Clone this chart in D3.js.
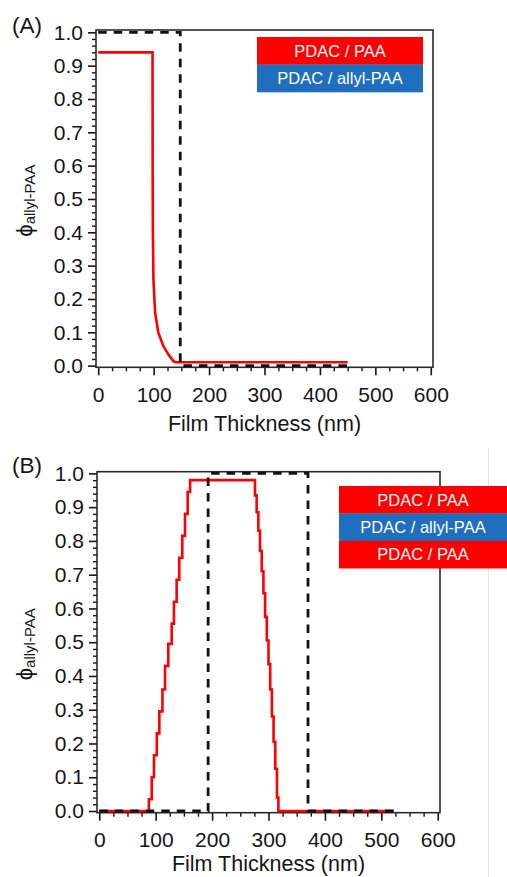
<!DOCTYPE html>
<html><head><meta charset="utf-8">
<script src="https://cdn.jsdelivr.net/npm/d3@7"></script>
<style>
body{margin:0;background:#fff}
svg{display:block}
text{font-family:"Liberation Sans",Arial,Helvetica,sans-serif}
</style>
</head><body>
<svg id="c" width="507" height="877"></svg>
<script>
// ---------------- data ----------------
const xMajorTicks = [0, 100, 200, 300, 400, 500, 600];
const yMajorTicks = [0, 0.1, 0.2, 0.3, 0.4, 0.5, 0.6, 0.7, 0.8, 0.9, 1.0];
const xTitle = "Film Thickness (nm)";
const yTitleMain = "\u03D5";
const yTitleSub = "allyl-PAA";

// Panel A: PDAC/PAA on top of PDAC/allyl-PAA
const aRedX = [0, 98, 98.2, 98.6, 99.6, 102.7, 108.6, 117.7, 126.7, 135.7, 141.8, 450];
const aRedY = [0.94, 0.94, 0.60, 0.41, 0.258, 0.158, 0.098, 0.058, 0.033, 0.013, 0.01, 0.01];
const aIdealX = [0, 148, 148, 450];
const aIdealY = [1, 1, 0, 0];
const aLegendLabels = ["PDAC / PAA", "PDAC / allyl-PAA"];
const aLegendKinds = ["PAA", "allyl"];

// Panel B: PDAC/PAA / PDAC/allyl-PAA / PDAC/PAA (step profile)
const bRedX = [0, 88, 93, 97, 102, 106.5, 112, 116.6, 122.4, 128.4, 132.4, 137.2, 141.8, 147.2, 152, 156.7, 161,
               276, 279, 282, 285, 288, 291, 294, 297, 300, 303, 306, 309, 312, 315, 317.5, 522];
const bRedY = [0, 0.035, 0.10, 0.165, 0.23, 0.295, 0.36, 0.43, 0.495, 0.555, 0.62, 0.685, 0.75, 0.815, 0.88, 0.945, 0.98,
               0.935, 0.885, 0.83, 0.77, 0.71, 0.645, 0.575, 0.505, 0.435, 0.36, 0.28, 0.205, 0.125, 0.04, 0, 0];
const bIdealX = [0, 193, 193, 370, 370, 522];
const bIdealY = [0, 0, 1, 1, 0, 0];
const bLegendLabels = ["PDAC / PAA", "PDAC / allyl-PAA", "PDAC / PAA"];
const bLegendKinds = ["PAA", "allyl", "PAA"];

// ---------------- style ----------------
const RED = "#ff0000";
const BLUE = "#1f6fbe";
const kindColor = {PAA: RED, allyl: BLUE};
const INK = "#151515";

const svg = d3.select("#c");
svg.append("rect").attr("width", 507).attr("height", 877).attr("fill", "#fff");

// faint screenshot separator line on the right
svg.append("line").attr("x1", 488.5).attr("x2", 488.5).attr("y1", 448).attr("y2", 877)
  .attr("stroke", "#e4e4e4").attr("stroke-width", 1);

function range(a, b, s) { const r = []; for (let v = a; v <= b + 1e-9; v += s) r.push(+v.toFixed(4)); return r; }

function drawPanel(p) {
  const x = d3.scaleLinear().domain([-4, 604]).range([p.left, p.right]);
  const y = d3.scaleLinear().domain(p.yDomain).range([p.bottom, p.top]);
  const g = svg.append("g");

  // minor ticks
  const xMinor = range(0, 600, 25).filter(v => v % 100 !== 0);
  const yMinor = range(0, 1, 0.02).filter(v => Math.abs(v * 10 - Math.round(v * 10)) > 1e-6);
  g.append("g").attr("transform", `translate(0,${p.bottom})`)
    .call(d3.axisBottom(x).tickValues(xMinor).tickSize(4).tickFormat("").tickSizeOuter(0))
    .call(s => s.select(".domain").remove())
    .call(s => s.selectAll("line").attr("stroke", INK).attr("stroke-width", 1.4));
  g.append("g").attr("transform", `translate(${p.left},0)`)
    .call(d3.axisLeft(y).tickValues(yMinor).tickSize(4).tickFormat("").tickSizeOuter(0))
    .call(s => s.select(".domain").remove())
    .call(s => s.selectAll("line").attr("stroke", INK).attr("stroke-width", 1.4));

  // major ticks + labels
  const xa = g.append("g").attr("transform", `translate(0,${p.bottom})`)
    .call(d3.axisBottom(x).tickValues(xMajorTicks).tickSize(8).tickPadding(p.xPad).tickSizeOuter(0).tickFormat(d3.format("d")));
  xa.select(".domain").remove();
  xa.selectAll("line").attr("stroke", INK).attr("stroke-width", 1.6);
  xa.selectAll("text").attr("fill", INK).attr("font-size", 21).attr("font-family", "Liberation Sans, Arial, sans-serif");

  const ya = g.append("g").attr("transform", `translate(${p.left},0)`)
    .call(d3.axisLeft(y).tickValues(yMajorTicks).tickSize(8).tickPadding(5).tickSizeOuter(0).tickFormat(d3.format(".1f")));
  ya.select(".domain").remove();
  ya.selectAll("line").attr("stroke", INK).attr("stroke-width", 1.6);
  ya.selectAll("text").attr("fill", INK).attr("font-size", 21).attr("font-family", "Liberation Sans, Arial, sans-serif");

  // frame
  g.append("rect").attr("x", p.left).attr("y", p.top)
    .attr("width", p.right - p.left).attr("height", p.bottom - p.top)
    .attr("fill", "none").attr("stroke", "#2a2a2a").attr("stroke-width", 1.6);

  // red profile
  const redPts = p.redX.map((v, i) => [v, p.redY[i]]);
  g.append("path").datum(redPts)
    .attr("d", d3.line().x(d => x(d[0])).y(d => y(d[1])).curve(p.step ? d3.curveStepAfter : d3.curveLinear))
    .attr("fill", "none").attr("stroke", RED).attr("stroke-width", 2.6).attr("stroke-linejoin", "miter");

  // ideal dashed profile
  const idPts = p.idealX.map((v, i) => [v, p.idealY[i]]);
  g.append("path").datum(idPts)
    .attr("d", d3.line().x(d => x(d[0])).y(d => y(d[1])))
    .attr("fill", "none").attr("stroke", "#111").attr("stroke-width", 2.8)
    .attr("stroke-dasharray", "8.5,7");

  // axis title
  g.append("text").attr("x", (p.left + p.right) / 2).attr("y", p.bottom + p.titleDy)
    .attr("text-anchor", "middle").attr("font-size", 21.5).attr("fill", INK).text(xTitle);

  // y title (rotated)
  const yt = g.append("text")
    .attr("transform", `translate(32,${(p.top + p.bottom) / 2 + 2}) rotate(-90)`)
    .attr("text-anchor", "middle").attr("fill", INK);
  yt.append("tspan").attr("font-size", 22).text(yTitleMain);
  yt.append("tspan").attr("font-size", 15).attr("dy", 3).text(yTitleSub);

  // panel label
  g.append("text").attr("x", 12).attr("y", p.top + p.labelDy)
    .attr("font-size", 22.5).attr("fill", INK).text(p.label);

  // legend
  const lg = g.append("g");
  p.legendLabels.forEach((t, i) => {
    lg.append("rect").attr("x", p.legX).attr("y", p.legY + i * p.legH)
      .attr("width", p.legW).attr("height", p.legH + 0.3)
      .attr("fill", kindColor[p.legendKinds[i]]);
    lg.append("text").attr("x", p.legTextX).attr("y", p.legY + i * p.legH + p.legH / 2)
      .attr("dy", "0.36em").attr("text-anchor", "middle")
      .attr("font-size", 16.5).attr("fill", "#fff").text(t);
  });
}

drawPanel({
  label: "(A)", labelDy: 3, xPad: 12, titleDy: 64,
  left: 96, right: 433, top: 30, bottom: 367.3, yDomain: [-0.005, 1.007],
  redX: aRedX, redY: aRedY, step: false,
  idealX: aIdealX, idealY: aIdealY,
  legendLabels: aLegendLabels, legendKinds: aLegendKinds,
  legX: 257, legY: 37, legW: 166, legH: 27.5, legTextX: 340
});

drawPanel({
  label: "(B)", labelDy: 1, xPad: 11, titleDy: 58,
  left: 97, right: 440, top: 471.7, bottom: 812.7, yDomain: [-0.005, 1.005],
  redX: bRedX, redY: bRedY, step: true,
  idealX: bIdealX, idealY: bIdealY,
  legendLabels: bLegendLabels, legendKinds: bLegendKinds,
  legX: 339, legY: 486, legW: 172, legH: 27.4, legTextX: 423
});
</script>
</body></html>
